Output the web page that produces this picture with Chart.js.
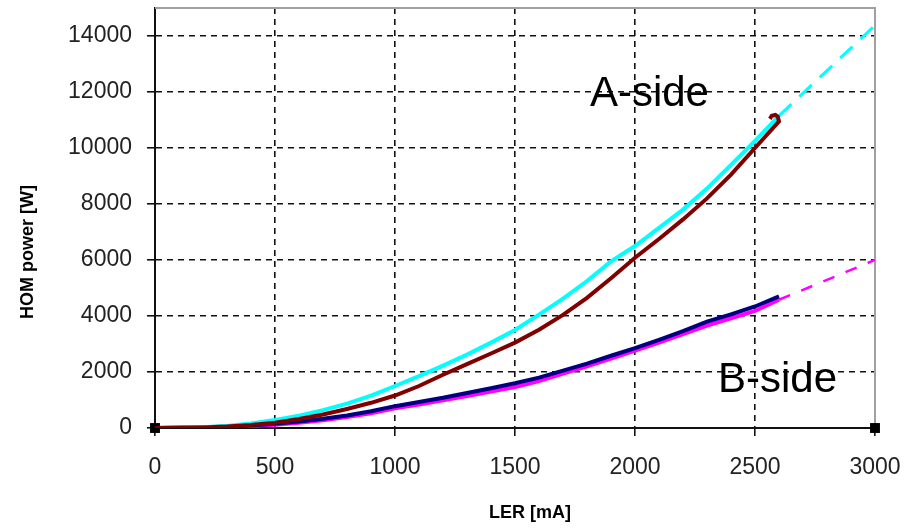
<!DOCTYPE html>
<html>
<head>
<meta charset="utf-8">
<script src="https://cdn.jsdelivr.net/npm/chart.js@4/dist/chart.umd.min.js"></script>
<style>
  html, body { margin: 0; padding: 0; background: #fff; }
  canvas { display: block; }
</style>
</head>
<body>
<canvas id="hom" width="920" height="528"></canvas>
<script>
// LER current [mA] where the measured curves were read
const LER = [0,100,200,300,400,500,600,700,800,900,1000,1100,1200,1300,
  1400,1500,1600,1700,1800,1900,2000,2100,2200,2300,2400,2500,2600]

// HOM power [W]
const aSideCyan = [0,10,30,70,160,290,440,640,870,1160,1500,1850,2230,2620,
  3050,3500,4050,4620,5250,5950,6500,7150,7800,8550,9400,10250,11150]
const aSideRed = [0,10,20,50,110,190,320,480,680,900,1160,1500,1900,2280,
  2660,3050,3510,4040,4650,5350,6080,6750,7450,8200,9050,10000,10950]
const bSideNavy = [0,10,25,50,90,150,230,330,450,600,780,930,1080,1250,
  1420,1600,1800,2050,2300,2580,2850,3150,3460,3800,4060,4340,4700]
const bSideMagenta = [0,5,15,35,70,120,190,280,390,530,700,840,990,1140,
  1300,1460,1680,1940,2200,2480,2760,3050,3350,3660,3920,4180,4580]

// little hook at the end of the red trace
const redHookX = [2595, 2585, 2570, 2562]
const redHookY = [11120, 11180, 11150, 11040]

// extrapolation up to 3000 mA
const extrapX = [2600, 3000]
const extrapCyan = [11150, 14380]
const extrapMagenta = [4580, 6000]

// black markers on the x axis
const markX = [0, 3000]
const markY = [0, 0]

const xTickValues = [0, 500, 1000, 1500, 2000, 2500, 3000]
const yTickValues = [0, 2000, 4000, 6000, 8000, 10000, 12000, 14000]
const yMax = 15000

const xTitle = 'LER [mA]'
const yTitle = 'HOM power [W]'

const labels = [
  { text: 'A-side', x: 1812, y: 11900 },
  { text: 'B-side', x: 2346, y: 1700 },
]

function pts(xs, ys) {
  return xs.map((x, i) => ({ x: x, y: ys[i] }))
}

const line = {
  type: 'line',
  pointRadius: 0,
  tension: 0,
  fill: false,
  borderWidth: 4,
}

const datasets = [
  { ...line, label: 'A red', data: pts(LER, aSideRed).concat(pts(redHookX, redHookY)), borderColor: '#800000' },
  { ...line, label: 'A cyan', data: pts(LER, aSideCyan), borderColor: '#00ffff' },
  { ...line, label: 'B navy', data: pts(LER, bSideNavy), borderColor: '#000080' },
  { ...line, label: 'B magenta', data: pts(LER, bSideMagenta), borderColor: '#ff00ff' },
  { ...line, label: 'A extrap', data: pts(extrapX, extrapCyan), borderColor: '#00ffff', borderWidth: 3, borderDash: [17, 11] },
  { ...line, label: 'B extrap', data: pts(extrapX, extrapMagenta), borderColor: '#ff00ff', borderWidth: 2.5, borderDash: [12, 12] },
  { type: 'scatter', label: 'marks', data: pts(markX, markY), pointStyle: 'rect', pointRadius: 7,
    backgroundColor: '#000', borderColor: '#000', borderWidth: 0, clip: false },
]

const fontFamily = '"Liberation Sans", Arial, sans-serif'

// gray frame on top/right, axis titles and side labels
const framePlugin = {
  id: 'frame',
  beforeDatasetsDraw(chart) {
    const { ctx, chartArea: a } = chart
    ctx.save()
    ctx.strokeStyle = '#a0a0a0'
    ctx.lineWidth = 2
    ctx.beginPath()
    ctx.moveTo(a.left, a.top)
    ctx.lineTo(a.right, a.top)
    ctx.lineTo(a.right, a.bottom)
    ctx.stroke()
    ctx.restore()
  },
  afterDraw(chart) {
    const { ctx, scales } = chart
    ctx.save()
    ctx.fillStyle = '#000'
    ctx.textBaseline = 'middle'
    ctx.font = '42px ' + fontFamily
    labels.forEach(l => {
      ctx.fillText(l.text, scales.x.getPixelForValue(l.x), scales.y.getPixelForValue(l.y))
    })
    ctx.font = 'bold 18px ' + fontFamily
    ctx.textAlign = 'center'
    ctx.fillText(xTitle, 530, 513)
    ctx.translate(28, 252)
    ctx.rotate(-Math.PI / 2)
    ctx.fillText(yTitle, 0, 0)
    ctx.restore()
  }
}

const tickFont = { family: fontFamily, size: 23 }

new Chart(document.getElementById('hom'), {
  data: { datasets: datasets },
  plugins: [framePlugin],
  options: {
    responsive: false,
    animation: false,
    layout: { padding: { top: 8, right: 45, left: 0, bottom: 0 } },
    plugins: {
      legend: { display: false },
      tooltip: { enabled: false },
    },
    scales: {
      x: {
        type: 'linear',
        min: xTickValues[0],
        max: xTickValues[xTickValues.length - 1],
        afterFit: s => { s.height = 100; s.paddingLeft = 0; s.paddingRight = 0 },
        afterBuildTicks: s => { s.ticks = xTickValues.map(v => ({ value: v })) },
        ticks: { color: '#222', font: tickFont, padding: 18, maxRotation: 0, autoSkip: false, callback: v => String(v) },
        grid: {
          color: c => (c.tick && (c.tick.value === 0 || c.tick.value === 3000)) ? 'rgba(0,0,0,0)' : '#111',
          lineWidth: 1.6,
          tickColor: '#111',
          tickLength: 8,
        },
        border: { color: '#111', width: 2, dash: [6, 5] },
      },
      y: {
        type: 'linear',
        min: yTickValues[0],
        max: yMax,
        afterFit: s => { s.width = 155; s.paddingTop = 0; s.paddingBottom = 0 },
        afterBuildTicks: s => { s.ticks = yTickValues.map(v => ({ value: v })) },
        ticks: { color: '#222', font: tickFont, padding: 15, autoSkip: false, callback: v => String(v) },
        grid: {
          color: c => (c.tick && c.tick.value === 0) ? 'rgba(0,0,0,0)' : '#111',
          lineWidth: 1.6,
          tickColor: '#111',
          tickLength: 8,
        },
        border: { color: '#111', width: 2, dash: [6, 5] },
      },
    },
  },
})
</script>
</body>
</html>
